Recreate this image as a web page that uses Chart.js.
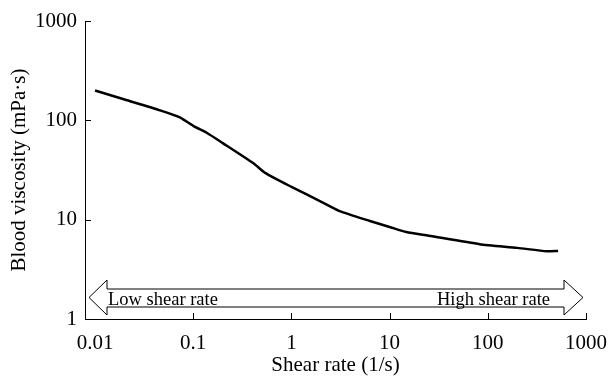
<!DOCTYPE html>
<html>
<head>
<meta charset="utf-8">
<script src="https://cdn.jsdelivr.net/npm/chart.js@4.4.1/dist/chart.umd.min.js"></script>
<style>
body{margin:0;background:#fff;}
canvas{display:block;}
</style>
</head>
<body>
<canvas id="viscChart" width="609" height="378"></canvas>
<script>
// shear rate (1/s) and blood viscosity (mPa·s)
const shearRate = [0.01, 0.02, 0.046, 0.073, 0.1, 0.137, 0.2, 0.41, 0.54, 1, 1.95, 3.1, 6.3, 10, 14.8, 25, 82.6, 200, 400, 520];
const viscosity = [200, 162, 126, 107, 88, 75, 59, 37, 29.6, 21.4, 15.4, 12.2, 9.7, 8.45, 7.5, 6.9, 5.67, 5.2, 4.8, 4.85];

const xTicks = [0.01, 0.1, 1, 10, 100, 1000];
const yTicks = [1, 10, 100, 1000];

const lowLabel = "Low shear rate";
const highLabel = "High shear rate";

const serif = "'Liberation Serif', 'DejaVu Serif', serif";

// ticks pointing into the plot + the double arrow near the bottom
const extras = {
id: "extras",
afterDraw(chart){
const ctx = chart.ctx;
const a = chart.chartArea;
const xs = chart.scales.x;
const ys = chart.scales.y;
ctx.save();
ctx.strokeStyle = "#000";
ctx.lineWidth = 1;
ctx.beginPath();
xTicks.forEach(v => {
if (v === xTicks[0]) return;
const px = Math.round(xs.getPixelForValue(v)) + 0.5;
ctx.moveTo(px, a.bottom);
ctx.lineTo(px, a.bottom - 6);
});
yTicks.forEach(v => {
if (v === yTicks[0]) return;
const py = Math.round(ys.getPixelForValue(v)) + 0.5;
ctx.moveTo(a.left, py);
ctx.lineTo(a.left + 6, py);
});
ctx.stroke();

// arrow
const b = a.bottom;
const l = a.left, r = a.right;
const sTop = b - 30, sBot = b - 12, hTop = b - 39, hBot = b - 4, mid = b - 21.5;
ctx.beginPath();
ctx.moveTo(l + 4, mid);
ctx.lineTo(l + 22, hTop);
ctx.lineTo(l + 22, sTop);
ctx.lineTo(r - 22, sTop);
ctx.lineTo(r - 22, hTop);
ctx.lineTo(r - 3, mid);
ctx.lineTo(r - 22, hBot);
ctx.lineTo(r - 22, sBot);
ctx.lineTo(l + 22, sBot);
ctx.lineTo(l + 22, hBot);
ctx.closePath();
ctx.fillStyle = "#fff";
ctx.fill();
ctx.stroke();

ctx.fillStyle = "#000";
ctx.font = "18.5px " + serif;
ctx.textBaseline = "alphabetic";
ctx.textAlign = "left";
ctx.fillText(lowLabel, l + 23, b - 14.5);
ctx.textAlign = "right";
ctx.fillText(highLabel, r - 36, b - 14.5);
ctx.restore();
}
};

window.onload = function(){

new Chart(
document.getElementById("viscChart"),
{
type: "line",
data: {
datasets: [{
data: shearRate.map((x, i) => ({x: x, y: viscosity[i]})),
borderColor: "#000",
borderWidth: 2.5,
pointRadius: 0,
tension: 0.2,
fill: false
}]
},
options: {
responsive: false,
animation: false,
events: [],
layout: {padding: {top: 21, right: 23, left: 0, bottom: 0}},
plugins: {legend: {display: false}, tooltip: {enabled: false}},
scales: {
x: {
type: "logarithmic",
min: 0.0079,
max: 1000,
afterBuildTicks: s => { s.ticks = xTicks.map(v => ({value: v})); },
afterFit: s => { s.height = 59; s.paddingLeft = 0; s.paddingRight = 0; },
border: {color: "#000", width: 1},
grid: {display: false, drawTicks: false},
ticks: {
color: "#000",
font: {family: serif, size: 21},
padding: 12,
maxRotation: 0,
autoSkip: false,
callback: v => String(v)
},
title: {
display: true,
text: "Shear rate (1/s)",
color: "#000",
font: {family: serif, size: 21},
padding: {top: 2, bottom: 0}
}
},
y: {
type: "logarithmic",
min: 1,
max: 1000,
afterBuildTicks: s => { s.ticks = yTicks.map(v => ({value: v})); },
afterFit: s => { s.width = 85; s.paddingTop = 0; s.paddingBottom = 0; },
border: {color: "#000", width: 1},
grid: {display: false, drawTicks: false},
ticks: {
color: "#000",
font: {family: serif, size: 21},
padding: 8,
autoSkip: false,
callback: v => String(v)
},
title: {
display: true,
text: "Blood viscosity (mPa·s)",
color: "#000",
font: {family: serif, size: 21},
padding: {top: 7, bottom: 0}
}
}
}
},
plugins: [extras]
}
);

};
</script>
</body>
</html>
